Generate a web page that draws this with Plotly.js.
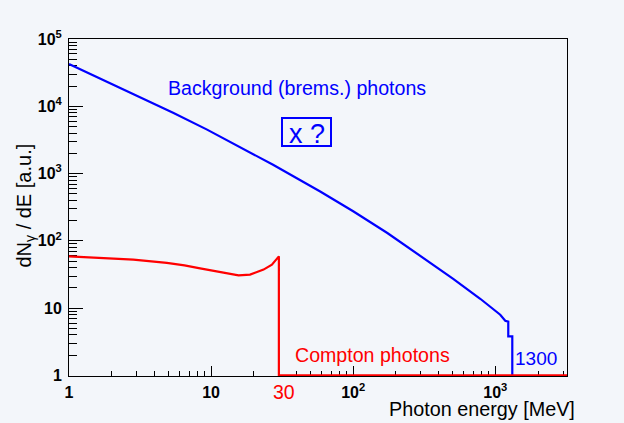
<!DOCTYPE html>
<html>
<head>
<meta charset="utf-8">
<script src="https://cdn.plot.ly/plotly-3.0.1.min.js"></script>
<style>html,body{margin:0;padding:0;background:#f3f6fa;}#chart{width:624px;height:423px;}</style>
</head>
<body>
<div id="chart"></div>
<script>
// Background (bremsstrahlung) photon spectrum
const bremsEnergy = [1, 1.79, 3.16, 5.40, 9.37, 16.0, 27.3, 58.6, 100, 174, 296, 506, 784, 1084, 1176, 1235, 1235, 1318, 1318];
const bremsCounts = [42560, 24150, 13770, 8040, 4500, 2500, 1352, 541, 275, 131, 60.8, 27.3, 13.8, 7.98, 6.5, 6.3, 3.8, 3.8, 1];
// Compton photon spectrum
const comptonEnergy = [1, 1.65, 2.84, 4.88, 6.5, 8.37, 10.5, 12.9, 15.6, 18.8, 21.0, 23.4, 26.8, 30, 30, 3200];
const comptonCounts = [58.9, 56.4, 52.6, 47.0, 43.3, 39.1, 35.6, 32.6, 30.8, 31.5, 34.0, 37.4, 44.4, 58.9, 1, 1];
// Tick labels
const xTickVals = [1, 10, 100, 1000];
const xTickText = ['1', '10', '10<sup>2</sup>', '10<sup>3</sup>'];
const yTickVals = [1, 10, 100, 1000, 10000, 100000];
const yTickText = ['1', '10', '10<sup>2</sup>', '10<sup>3</sup>', '10<sup>4</sup>', '10<sup>5</sup>'];

function minorTicks(maxDecade) {
  const out = [];
  for (let d = 0; d <= maxDecade; d++) for (let k = 2; k <= 9; k++) out.push(k * Math.pow(10, d));
  return out;
}

const FONT = '"Liberation Sans", Arial, Helvetica, sans-serif';
const BG = '#f3f6fa';

const traces = [
  {x: bremsEnergy, y: bremsCounts, type: 'scatter', mode: 'lines',
   line: {color: '#0000ff', width: 2.2}, hoverinfo: 'skip'},
  {x: comptonEnergy, y: comptonCounts, type: 'scatter', mode: 'lines',
   line: {color: '#ff0000', width: 2.2}, hoverinfo: 'skip'}
];

const W = 498, H = 337, L = 69, T = 39;
const px = v => (v - L) / W;
const py = v => 1 - (v - T) / H;

const layout = {
  width: 624, height: 423,
  margin: {l: L, r: 624 - L - W, t: T, b: 423 - T - H},
  paper_bgcolor: BG, plot_bgcolor: BG,
  showlegend: false,
  font: {family: FONT, color: '#000'},
  xaxis: {
    type: 'log', range: [0, 3.505], showgrid: false, zeroline: false,
    showline: true, linecolor: '#000', linewidth: 1, mirror: true,
    ticks: 'inside', ticklen: 10, tickwidth: 1, tickcolor: '#000',
    tickmode: 'array', tickvals: xTickVals, ticktext: xTickText,
    tickfont: {family: FONT, size: 16, weight: 'bold', color: '#000'},
    ticklabelstandoff: 2,
    minor: {tickmode: 'array', tickvals: minorTicks(3), ticks: 'inside', ticklen: 5, tickwidth: 1, tickcolor: '#000', showgrid: false},
    layer: 'below traces'
  },
  yaxis: {
    type: 'log', range: [-0.008, 5], showgrid: false, zeroline: false,
    showline: true, linecolor: '#000', linewidth: 1, mirror: true,
    ticks: 'inside', ticklen: 14, tickwidth: 1, tickcolor: '#000',
    tickmode: 'array', tickvals: yTickVals, ticktext: yTickText,
    tickfont: {family: FONT, size: 16, weight: 'bold', color: '#000'},
    ticklabelstandoff: 3,
    minor: {tickmode: 'array', tickvals: minorTicks(4), ticks: 'inside', ticklen: 8, tickwidth: 1, tickcolor: '#000', showgrid: false},
    layer: 'below traces'
  },
  shapes: [
    {type: 'rect', xref: 'paper', yref: 'paper', x0: px(282), x1: px(331), y0: py(146), y1: py(118),
     line: {color: '#0000ff', width: 2}}
  ],
  annotations: [
    {text: 'Background (brems.) photons', xref: 'paper', yref: 'paper', x: px(166), y: py(88.2),
     xanchor: 'left', yanchor: 'middle', showarrow: false, font: {family: FONT, size: 19.6, color: '#0000ff'}},
    {text: 'x ?', xref: 'paper', yref: 'paper', x: px(306.5), y: py(133.5),
     xanchor: 'center', yanchor: 'middle', showarrow: false, font: {family: FONT, size: 27, color: '#0000ff'}},
    {text: 'Compton photons', xref: 'paper', yref: 'paper', x: px(293), y: py(354.9),
     xanchor: 'left', yanchor: 'middle', showarrow: false, font: {family: FONT, size: 19.6, color: '#ff0000'}},
    {text: '1300', xref: 'paper', yref: 'paper', x: px(513), y: py(358.2),
     xanchor: 'left', yanchor: 'middle', showarrow: false, font: {family: FONT, size: 19, color: '#0000ff'}},
    {text: '30', xref: 'paper', yref: 'paper', x: px(271), y: py(391.5),
     xanchor: 'left', yanchor: 'middle', showarrow: false, font: {family: FONT, size: 19.5, color: '#ff0000'}},
    {text: 'Photon energy [MeV]', xref: 'paper', yref: 'paper', x: px(577), y: py(408.5),
     xanchor: 'right', yanchor: 'middle', showarrow: false, font: {family: FONT, size: 19.8, color: '#000'}},
    {text: 'dN<sub>γ</sub> / dE [a.u.]', xref: 'paper', yref: 'paper', x: px(24.5), y: py(206),
     xanchor: 'center', yanchor: 'middle', textangle: -90, showarrow: false, font: {family: FONT, size: 20, color: '#000'}}
  ]
};

Plotly.newPlot('chart', traces, layout, {staticPlot: true, displayModeBar: false});
</script>
</body>
</html>
